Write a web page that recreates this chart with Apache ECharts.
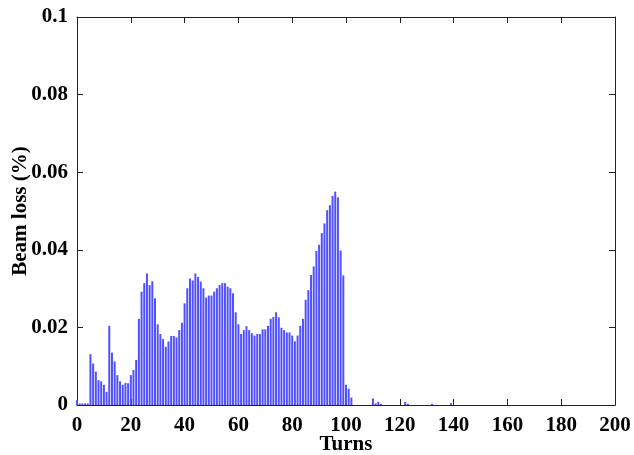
<!DOCTYPE html>
<html>
<head>
<meta charset="utf-8">
<script src="https://cdn.jsdelivr.net/npm/echarts@6/dist/echarts.min.js"></script>
<style>
  html, body { margin: 0; padding: 0; background: #fff; }
  #app { width: 634px; height: 455px; }
</style>
</head>
<body>
<div id="app"></div>
<script>
// beam loss per turn (%), turns 0..102
const lossMain = [
  0.0012, 0.0004, 0.0004, 0.0004, 0.0004, 0.0131, 0.0107, 0.0086, 0.0064, 0.0061,
  0.0052, 0.0034, 0.0204, 0.0135, 0.0112, 0.0077, 0.0061, 0.0052, 0.0057, 0.0056,
  0.0077, 0.0090, 0.0116, 0.0222, 0.0292, 0.0314, 0.0339, 0.0309, 0.0319, 0.0275,
  0.0208, 0.0183, 0.0170, 0.0150, 0.0164, 0.0178, 0.0178, 0.0174, 0.0193, 0.0212,
  0.0262, 0.0301, 0.0326, 0.0321, 0.0339, 0.0330, 0.0318, 0.0301, 0.0277, 0.0282,
  0.0282, 0.0292, 0.0301, 0.0309, 0.0314, 0.0314, 0.0305, 0.0301, 0.0288, 0.0239,
  0.0208, 0.0183, 0.0193, 0.0203, 0.0193, 0.0185, 0.0179, 0.0183, 0.0183, 0.0195,
  0.0195, 0.0204, 0.0222, 0.0227, 0.0239, 0.0226, 0.0199, 0.0193, 0.0187, 0.0187,
  0.0179, 0.0164, 0.0179, 0.0204, 0.0222, 0.0271, 0.0296, 0.0335, 0.0357, 0.0397,
  0.0413, 0.0443, 0.0468, 0.0502, 0.0515, 0.0539, 0.0550, 0.0535, 0.0398, 0.0334,
  0.0052, 0.0042, 0.0019
];
// scattered small losses after turn 102
const tailTurns = [110, 111, 112, 113, 122, 123, 132, 139];
const tailLoss = [0.0017, 0.0004, 0.0008, 0.0003, 0.0008, 0.0003, 0.0003, 0.0005];

const xTicks = { min: 0, max: 200, interval: 20 };
const yTicks = { min: 0, max: 0.1, interval: 0.02 };

const barData = lossMain.map((v, i) => [i, v])
  .concat(tailTurns.map((t, i) => [t, tailLoss[i]]));

const chart = echarts.init(document.getElementById('app'), null, { renderer: 'canvas' });

const labelFont = {
  fontFamily: 'Liberation Serif',
  fontWeight: 'bold',
  fontSize: 21,
  color: '#000'
};
const nameFont = { fontFamily: 'Liberation Serif', fontWeight: 'bold', fontSize: 21, color: '#000' };
const frameLine = { show: true, onZero: false, lineStyle: { color: '#222', width: 1 } };
const tickIn = { show: true, inside: true, length: 6, lineStyle: { color: '#222' } };

chart.setOption({
  animation: false,
  grid: { left: 77, right: 19, top: 17, bottom: 50, containLabel: false, outerBoundsMode: 'none' },
  xAxis: [{
    type: 'value',
    min: xTicks.min, max: xTicks.max, interval: xTicks.interval,
    name: 'Turns',
    nameLocation: 'middle',
    nameMoveOverlap: false,
    nameGap: 29,
    nameTextStyle: nameFont,
    axisLine: frameLine,
    axisTick: tickIn,
    axisLabel: Object.assign({ margin: 10 }, labelFont),
    splitLine: { show: false }
  }, {
    type: 'value', position: 'top',
    min: xTicks.min, max: xTicks.max, interval: xTicks.interval,
    axisLine: frameLine, axisTick: tickIn,
    axisLabel: { show: false }, splitLine: { show: false }
  }],
  yAxis: [{
    type: 'value',
    min: yTicks.min, max: yTicks.max, interval: yTicks.interval,
    name: 'Beam loss (%)',
    nameLocation: 'middle',
    nameMoveOverlap: false,
    nameGap: 46,
    nameTextStyle: nameFont,
    axisLine: frameLine,
    axisTick: tickIn,
    axisLabel: Object.assign({ margin: 9 }, labelFont),
    splitLine: { show: false }
  }, {
    type: 'value', position: 'right',
    min: yTicks.min, max: yTicks.max, interval: yTicks.interval,
    axisLine: frameLine, axisTick: tickIn,
    axisLabel: { show: false }, splitLine: { show: false }
  }],
  series: [{
    type: 'bar',
    xAxisIndex: 0,
    yAxisIndex: 0,
    barWidth: 2,
    itemStyle: { color: '#5050ff' },
    data: barData
  }]
});
</script>
</body>
</html>
